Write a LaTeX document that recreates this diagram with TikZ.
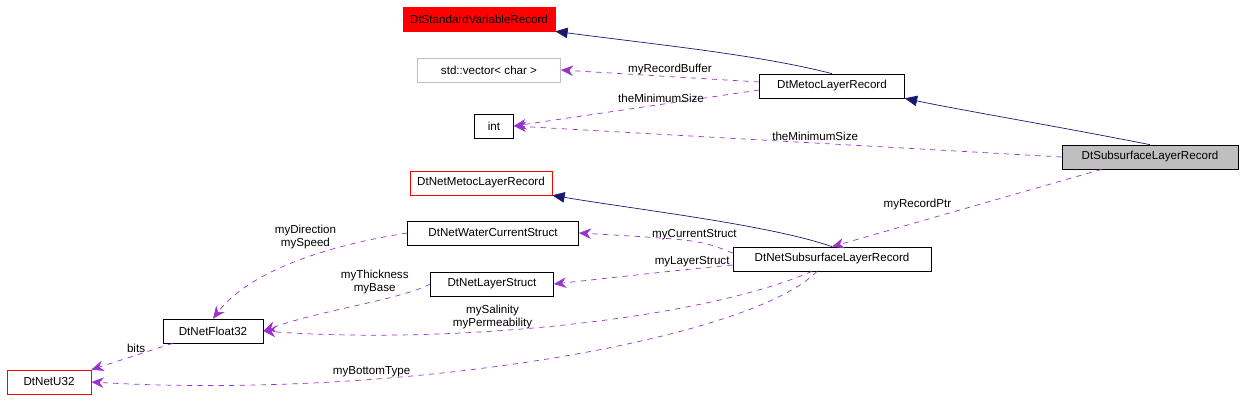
\documentclass[tikz,border=0pt]{standalone}
\usepackage{fontspec}
\setmainfont{Liberation Sans}
\usetikzlibrary{arrows.meta}
\definecolor{edgenavy}{HTML}{191970}
\definecolor{edgepurple}{HTML}{9A32CD}
\definecolor{boxgray}{HTML}{BFBFBF}
\tikzset{
  cls/.style={draw=black,fill=white,minimum height=0.48cm,inner xsep=3pt,font=\fontsize{6.6}{7.5}\selectfont},
  redcls/.style={cls,draw=red},
  graycls/.style={cls,draw=boxgray},
  inherit/.style={edgenavy,-{Triangle[open,length=7pt,width=6pt,fill=edgenavy]}},
  member/.style={edgepurple,dashed,-{Stealth[length=7pt,width=6pt]}},
  lbl/.style={font=\fontsize{6.6}{7.5}\selectfont,text=black,align=center,inner sep=1pt}
}
\begin{document}
\begin{tikzpicture}[x=0.02cm,y=-0.02cm]
  \useasboundingbox (0,0) rectangle (1243,405);

  % ---- Classes ----------------------------------------------
  \node[redcls,color=red,text=black,minimum width=3.04cm] (stdvar) at (479,19) {DtStandardVariableRecord};
  \node[graycls,minimum width=2.86cm] (vec)     at (489,70)  {std::vector< char >};
  \node[cls,minimum width=2.9cm]      (metoc)   at (832,86)  {DtMetocLayerRecord};
  \node[cls,minimum width=0.78cm]     (int)     at (494,126) {int};
  \node[cls,fill=boxgray,minimum width=3.52cm] (subsurf) at (1150,157) {DtSubsurfaceLayerRecord};
  \node[redcls,minimum width=2.84cm]  (netmetoc) at (481,183) {DtNetMetocLayerRecord};
  \node[cls,minimum width=3.42cm]     (water)   at (493,233) {DtNetWaterCurrentStruct};
  \node[cls,minimum width=3.96cm]     (netsub)  at (832,259) {DtNetSubsurfaceLayerRecord};
  \node[cls,minimum width=2.46cm]     (layer)   at (492,284) {DtNetLayerStruct};
  \node[cls,minimum width=2.0cm]      (float)   at (213,331) {DtNetFloat32};
  \node[redcls,minimum width=1.68cm]  (u32)     at (49,382)  {DtNetU32};

  % ---- Inheritance ------------------------------------------
  \draw[inherit] (metoc.north) .. controls (760,55) and (660,45) .. (stdvar.south east);
  \draw[inherit] (subsurf.north) .. controls (1050,125) and (960,110) .. (metoc.south east);
  \draw[inherit] (netsub.north) .. controls (770,225) and (640,210) .. (netmetoc.south east);

  % ---- Members ----------------------------------------------
  \draw[member] (metoc.west) ++(0,-4) -- (vec.east)
    node[lbl,pos=0.45,above] {myRecordBuffer};
  \draw[member] (metoc.west) ++(0,4) -- (int.east)
    node[lbl,pos=0.4,above] {theMinimumSize};
  \draw[member] (subsurf.west) -- (int.east)
    node[lbl,pos=0.45,above] {theMinimumSize};
  \draw[member] (subsurf.south west) ++(40,0) -- (netsub.north)
    node[lbl,pos=0.55,above left] {myRecordPtr};
  \draw[member] (netsub.west) ++(0,-6) .. controls (700,240) .. (water.east)
    node[lbl,pos=0.45,above] {myCurrentStruct};
  \draw[member] (netsub.west) ++(0,6) .. controls (700,268) .. (layer.east)
    node[lbl,pos=0.45,above] {myLayerStruct};
  \draw[member] (netsub.south) ++(-20,0) .. controls (700,320) and (450,345) .. (float.east)
    node[lbl,pos=0.62,above] {mySalinity\\myPermeability};
  \draw[member] (netsub.south) ++(-15,0) .. controls (750,340) and (400,400) .. (u32.east)
    node[lbl,pos=0.7,above] {myBottomType};
  \draw[member] (water.west) .. controls (330,245) and (250,270) .. (float.north)
    node[lbl,pos=0.45,above=4pt] {myDirection\\mySpeed};
  \draw[member] (layer.west) .. controls (400,300) and (320,310) .. (float.east)
    node[lbl,pos=0.4,above=3pt] {myThickness\\myBase};
  \draw[member] (float.south west) ++(10,0) -- (u32.north east)
    node[lbl,pos=0.45,above] {bits};
\end{tikzpicture}
\end{document}
